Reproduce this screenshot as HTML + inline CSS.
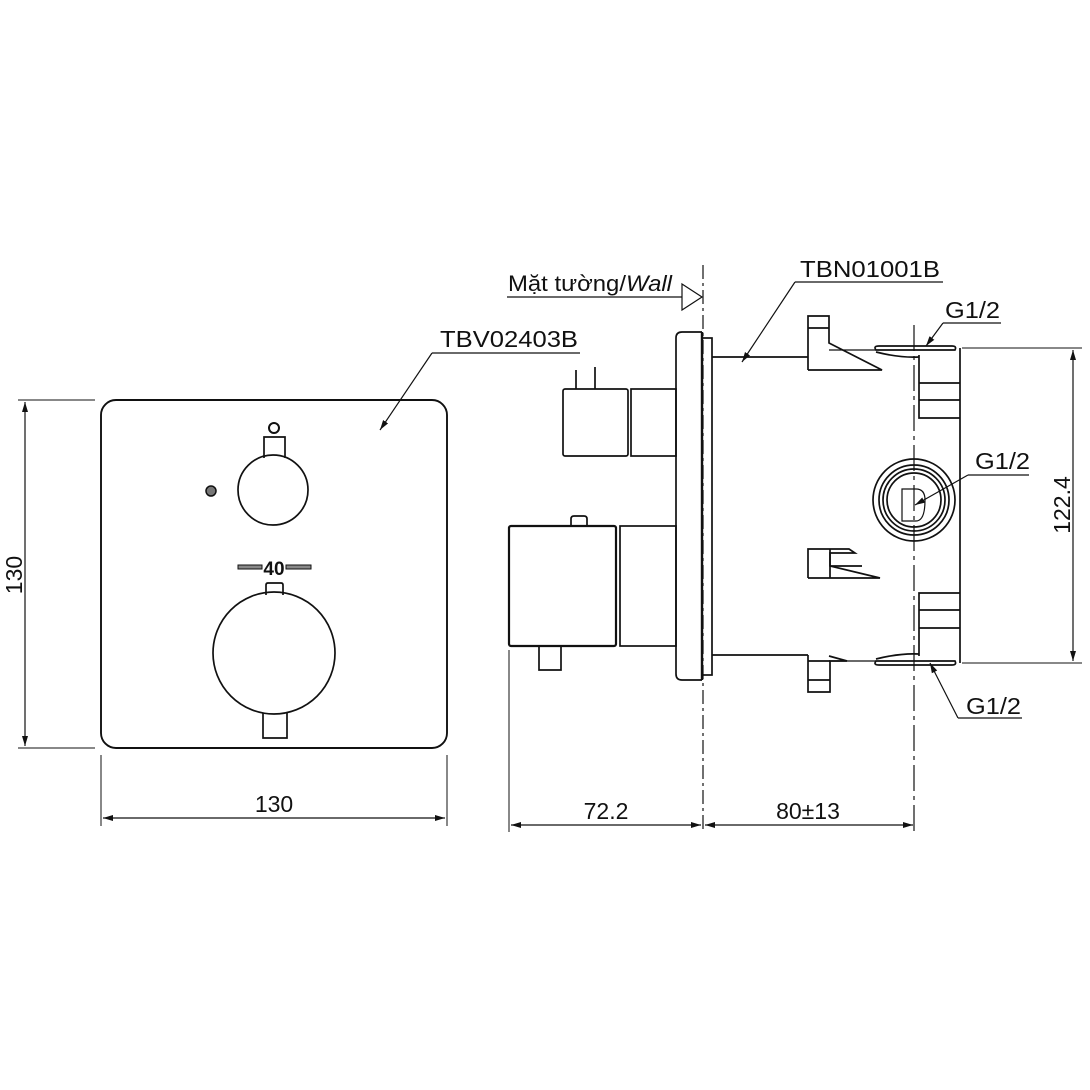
<!DOCTYPE html>
<html><head><meta charset="utf-8"><style>html,body{margin:0;padding:0;background:#fff}svg{display:block}</style></head>
<body>
<svg width="1090" height="1090" viewBox="0 0 1090 1090" xmlns="http://www.w3.org/2000/svg" font-family="Liberation Sans, sans-serif" fill="none" stroke="#111" stroke-width="1.7">
<defs>
<marker id="ar" viewBox="0 0 10 10" refX="10" refY="5" markerWidth="10" markerHeight="10" orient="auto-start-reverse" markerUnits="userSpaceOnUse"><path d="M0,2 L10,5 L0,8 z" fill="#111" stroke="none"/></marker>
</defs>
<!-- LEFT FRONT VIEW -->
<rect x="101" y="400" width="346" height="348" rx="15" stroke-width="1.9"/>
<line x1="18" y1="400" x2="95" y2="400" stroke-width="1"/>
<line x1="18" y1="748" x2="95" y2="748" stroke-width="1"/>
<line x1="25" y1="402" x2="25" y2="746" stroke-width="1.2" marker-start="url(#ar)" marker-end="url(#ar)"/>
<text transform="translate(22,575) rotate(-90)" font-size="23" fill="#111" stroke="none" text-anchor="middle">130</text>
<line x1="101" y1="755" x2="101" y2="826" stroke-width="1"/>
<line x1="447" y1="755" x2="447" y2="826" stroke-width="1"/>
<line x1="103" y1="818" x2="445" y2="818" stroke-width="1.2" marker-start="url(#ar)" marker-end="url(#ar)"/>
<text x="274" y="812" font-size="23" fill="#111" stroke="none" text-anchor="middle">130</text>
<text x="440" y="347" font-size="23" fill="#111" stroke="none" textLength="138" lengthAdjust="spacingAndGlyphs">TBV02403B</text>
<line x1="432" y1="353" x2="580" y2="353" stroke-width="1.2"/>
<line x1="432" y1="353" x2="380" y2="430" stroke-width="1.2" marker-end="url(#ar)"/>
<circle cx="273" cy="490" r="35"/>
<path d="M264,458 V437 H285 V458"/>
<circle cx="274" cy="428" r="5" stroke-width="2"/>
<circle cx="211" cy="491" r="5" fill="#777" stroke-width="1.5"/>
<text x="274" y="575" font-size="19" font-weight="bold" fill="#111" stroke="none" text-anchor="middle">40</text>
<rect x="238" y="565" width="24" height="4" fill="#888" stroke-width="1"/>
<rect x="286" y="565" width="25" height="4" fill="#888" stroke-width="1"/>
<circle cx="274" cy="653" r="61"/>
<path d="M266,595 V585 Q266,583 268,583 H281 Q283,583 283,585 V595"/>
<path d="M263,713 V738 H287 V713"/>

<!-- SIDE VIEW -->
<text x="508" y="291" font-size="22" fill="#111" stroke="none" textLength="164" lengthAdjust="spacingAndGlyphs">Mặt tường/<tspan font-style="italic">Wall</tspan></text>
<line x1="507" y1="297" x2="682" y2="297" stroke-width="1.2"/>
<path d="M682,284 L702,297 L682,310 z" stroke-width="1.2"/>
<line x1="703" y1="265" x2="703" y2="832" stroke-width="1.2" stroke-dasharray="14,4,3,4"/>
<path d="M702,332 H682 Q676,332 676,338 V674 Q676,680 682,680 H702" stroke-width="1.7"/>
<line x1="702" y1="332" x2="702" y2="680" stroke-width="2.4"/>
<rect x="702" y="338" width="10" height="337"/>
<rect x="563" y="389" width="65" height="67" rx="2"/>
<rect x="631" y="389" width="45" height="67"/>
<line x1="576" y1="370" x2="576" y2="389"/>
<line x1="595" y1="367" x2="595" y2="389"/>
<rect x="509" y="526" width="107" height="120" rx="2" stroke-width="2.2"/>
<rect x="620" y="526" width="56" height="120"/>
<path d="M571,526 V519 Q571,516 574,516 H584 Q587,516 587,519 V526"/>
<path d="M539,646 V670 H561 V646"/>
<line x1="509" y1="650" x2="509" y2="832" stroke-width="1"/>
<line x1="712" y1="357" x2="808" y2="357"/>
<line x1="712" y1="655" x2="808" y2="655"/>
<line x1="829" y1="350" x2="876" y2="350" stroke-width="1.2"/>
<line x1="829" y1="661" x2="876" y2="661" stroke-width="1.2"/>
<path d="M808,370 V316 H829 V343 L882,370 H808"/>
<line x1="808" y1="328" x2="829" y2="328"/>
<path d="M808,578 V549 H849 L855,553 H830 V566 L880,578 H808"/>
<line x1="830" y1="549" x2="830" y2="578"/>
<line x1="830" y1="566" x2="862" y2="566"/>
<path d="M829,656 L847,661 H830 V692 H808 V655"/>
<line x1="808" y1="680" x2="830" y2="680"/>
<line x1="808" y1="661" x2="830" y2="661"/>
<line x1="960" y1="348" x2="960" y2="663"/>
<path d="M876,350 Q873,346 879,346 H952 Q957,346 955,350 Z"/>
<path d="M876,352 Q900,358 919,357"/>
<path d="M919,355 V418 H960 M919,383 H960 M919,400 H960"/>
<path d="M876,661 Q873,665 879,665 H952 Q957,665 955,661 Z"/>
<path d="M876,659 Q900,653 919,654"/>
<path d="M919,656 V593 H960 M919,610 H960 M919,628 H960"/>
<line x1="914" y1="325" x2="914" y2="832" stroke-width="1.2" stroke-dasharray="26,5,4,5"/>
<circle cx="914" cy="500" r="41"/>
<circle cx="914" cy="500" r="35"/>
<circle cx="914" cy="500" r="31"/>
<circle cx="914" cy="500" r="27"/>
<path d="M902,489 H916 Q925,489 925,500 Q925,521 916,521 H902 Z" stroke-width="1.2"/>
<text x="945" y="318" font-size="23" fill="#111" stroke="none" textLength="55" lengthAdjust="spacingAndGlyphs">G1/2</text>
<line x1="943" y1="323" x2="1001" y2="323" stroke-width="1.2"/>
<line x1="943" y1="323" x2="926" y2="346" stroke-width="1.2" marker-end="url(#ar)"/>
<text x="975" y="469" font-size="23" fill="#111" stroke="none" textLength="55" lengthAdjust="spacingAndGlyphs">G1/2</text>
<line x1="968" y1="475" x2="1029" y2="475" stroke-width="1.2"/>
<line x1="968" y1="475" x2="915" y2="505" stroke-width="1.2" marker-end="url(#ar)"/>
<text x="966" y="714" font-size="23" fill="#111" stroke="none" textLength="55" lengthAdjust="spacingAndGlyphs">G1/2</text>
<line x1="958" y1="718" x2="1022" y2="718" stroke-width="1.2"/>
<line x1="958" y1="718" x2="930" y2="663" stroke-width="1.2" marker-end="url(#ar)"/>
<text x="800" y="277" font-size="23" fill="#111" stroke="none" textLength="140" lengthAdjust="spacingAndGlyphs">TBN01001B</text>
<line x1="795" y1="282" x2="943" y2="282" stroke-width="1.2"/>
<line x1="795" y1="282" x2="742" y2="362" stroke-width="1.2" marker-end="url(#ar)"/>
<line x1="962" y1="348" x2="1082" y2="348" stroke-width="1"/>
<line x1="962" y1="663" x2="1082" y2="663" stroke-width="1"/>
<line x1="1073" y1="350" x2="1073" y2="661" stroke-width="1.2" marker-start="url(#ar)" marker-end="url(#ar)"/>
<text transform="translate(1070,505) rotate(-90)" font-size="23" fill="#111" stroke="none" text-anchor="middle">122.4</text>
<line x1="511" y1="825" x2="701" y2="825" stroke-width="1.2" marker-start="url(#ar)" marker-end="url(#ar)"/>
<line x1="705" y1="825" x2="913" y2="825" stroke-width="1.2" marker-start="url(#ar)" marker-end="url(#ar)"/>
<text x="606" y="819" font-size="23" fill="#111" stroke="none" text-anchor="middle">72.2</text>
<text x="808" y="819" font-size="23" fill="#111" stroke="none" text-anchor="middle">80±13</text>
</svg>
</body></html>
